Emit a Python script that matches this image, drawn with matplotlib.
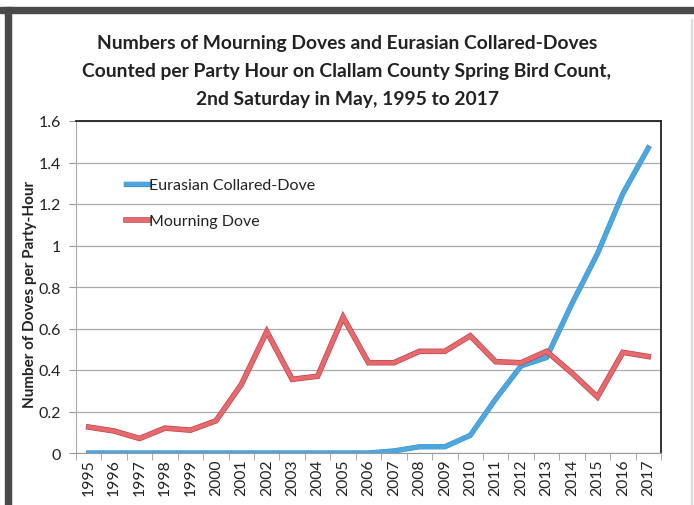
import matplotlib
matplotlib.use("Agg")
import matplotlib.pyplot as plt
import matplotlib.patheffects as pe
from matplotlib.patches import Rectangle

years = [str(y) for y in range(1995, 2018)]
mourning = [0.125, 0.106, 0.07, 0.12, 0.11, 0.155, 0.33, 0.585, 0.355, 0.37, 0.655,
            0.435, 0.435, 0.49, 0.49, 0.565, 0.44, 0.435, 0.49, 0.385, 0.27, 0.485, 0.465]
collared = [0, 0, 0, 0, 0, 0, 0, 0, 0, 0, 0, 0, 0.01, 0.03, 0.03, 0.085, 0.26, 0.42,
            0.46, 0.72, 0.96, 1.25, 1.47]
yticks = [0, 0.2, 0.4, 0.6, 0.8, 1, 1.2, 1.4, 1.6]
ytick_labels = ["0", "0.2", "0.4", "0.6", "0.8", "1", "1.2", "1.4", "1.6"]

plt.rcParams['font.family'] = ['Lato', 'DejaVu Sans']

W, H = 694, 506
fig = plt.figure(figsize=(W / 100, H / 100), dpi=100)
fig.patch.set_facecolor('white')

# scan frame
fig.add_artist(Rectangle((0, 1 - 14 / H), 1, 6 / H, transform=fig.transFigure,
                         color='#4a4a4a', zorder=0))
fig.add_artist(Rectangle((5 / W, 0), 6 / W, 1 - 8 / H, transform=fig.transFigure,
                         color='#4a4a4a', zorder=0))
fig.add_artist(Rectangle((691 / W, 0), 1 / W, 1 - 20 / H, transform=fig.transFigure,
                         color='#dddddd', zorder=0))

ax = fig.add_axes([76 / W, 1 - 454 / H, (661 - 76) / W, (454 - 122) / H])
x = list(range(len(years)))

ax.plot(x, collared, color='#4da6dd', lw=3.2, solid_joinstyle='miter',
        label='Eurasian Collared-Dove', zorder=3,
        path_effects=[pe.Stroke(linewidth=3.8, foreground='#3b8fc8'), pe.Normal()])
ax.plot(x, mourning, color='#e56a6e', lw=3.0, solid_joinstyle='miter',
        label='Mourning Dove', zorder=4,
        path_effects=[pe.Stroke(linewidth=4.0, foreground='#c0434a'), pe.Normal()])

ax.set_xlim(-0.5, len(years) - 0.5)
ax.set_ylim(0, 1.6)
ax.set_yticks(yticks)
ax.set_yticklabels(ytick_labels)
ax.set_xticks(x)
ax.set_xticklabels(years, rotation=90)
ax.set_xticks([i - 0.5 for i in range(len(years) + 1)], minor=True)
ax.tick_params(axis='x', which='major', length=0, labelsize=11.3, pad=4, colors='#222222')
ax.tick_params(axis='x', which='minor', length=5, color='#999999', direction='out')
ax.tick_params(axis='y', length=5, color='#999999', labelsize=11.5, colors='#222222', pad=6)
ax.yaxis.grid(True, color='#aaaaaa', lw=0.9)
ax.set_axisbelow(True)
for s in ['top', 'right']:
    ax.spines[s].set_color('#222222')
    ax.spines[s].set_linewidth(1.3)
ax.spines['left'].set_color('#aaaaaa')
ax.spines['bottom'].set_color('#999999')

ax.set_ylabel('Number of Doves per Party-Hour', fontsize=11, fontweight='bold',
              color='#222222', va='center')
ax.yaxis.set_label_coords(-46 / 585, 0.48)

leg = ax.legend(loc='upper left', bbox_to_anchor=(0.075, 0.847), frameon=False,
                handlelength=1.4, handletextpad=0.0, labelspacing=1.35, fontsize=11.5,
                borderaxespad=0)
for t in leg.get_texts():
    t.set_color('#222222')

fig.text(0.5, 1 - 44 / H, 'Numbers of Mourning Doves and Eurasian Collared-Doves',
         ha='center', va='center', fontsize=13.9, fontweight='bold', color='#222222')
fig.text(0.5, 1 - 72 / H, 'Counted per Party Hour on Clallam County Spring Bird Count,',
         ha='center', va='center', fontsize=13.9, fontweight='bold', color='#222222')
fig.text(0.5, 1 - 100 / H, '2nd Saturday in May, 1995 to 2017',
         ha='center', va='center', fontsize=13.9, fontweight='bold', color='#222222')

fig.savefig('out.png', dpi=100)
